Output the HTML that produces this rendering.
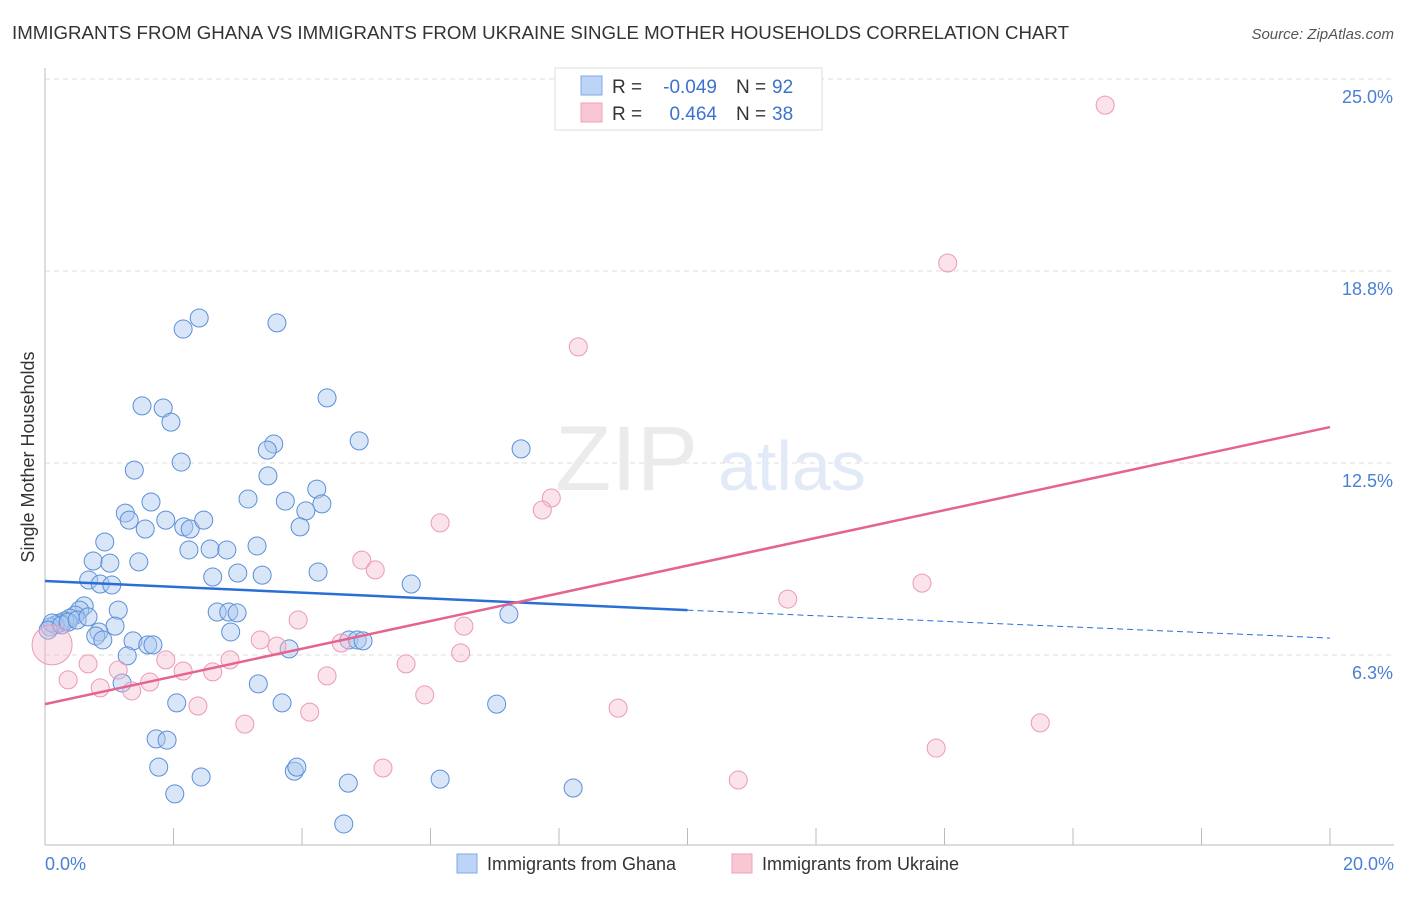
<!DOCTYPE html>
<html><head><meta charset="utf-8">
<style>
body{margin:0;background:#fff;font-family:"Liberation Sans",sans-serif;}
svg text{font-family:"Liberation Sans",sans-serif;}
</style></head>
<body>
<svg id="chart" width="1406" height="892" viewBox="0 0 1406 892">
<text x="12" y="39" font-size="18" fill="#333" textLength="1057" lengthAdjust="spacingAndGlyphs">IMMIGRANTS FROM GHANA VS IMMIGRANTS FROM UKRAINE SINGLE MOTHER HOUSEHOLDS CORRELATION CHART</text>
<text x="1394" y="39" font-size="15" fill="#555" text-anchor="end" font-style="italic">Source: ZipAtlas.com</text>
<g id="grid"></g>
<text x="555" y="490" font-size="92" fill="#ebebeb" font-family="Liberation Serif">ZIP</text>
<text x="718" y="490" font-size="70" fill="#e1eaf6">atlas</text>
<g id="marks"></g>
<text transform="translate(34,457) rotate(-90)" font-size="18" fill="#333" text-anchor="middle">Single Mother Households</text>
<text x="45" y="870" font-size="18" fill="#4a7fd4">0.0%</text>
<text x="1394" y="870" font-size="18" fill="#4a7fd4" text-anchor="end">20.0%</text>
<g>
<rect x="555" y="68" width="267" height="62" fill="#fff" stroke="#ddd"/>
<rect x="581" y="76" width="21" height="19" fill="#bcd4f5" stroke="#7ea8e6"/>
<rect x="581" y="103" width="21" height="19" fill="#f9c6d4" stroke="#eea0b8"/>
<text x="612" y="93" font-size="19" fill="#333">R =</text>
<text x="717" y="93" font-size="19" fill="#3a72d0" text-anchor="end">-0.049</text>
<text x="736" y="93" font-size="19" fill="#333">N =</text>
<text x="772" y="93" font-size="19" fill="#3a72d0">92</text>
<text x="612" y="120" font-size="19" fill="#333">R =</text>
<text x="717" y="120" font-size="19" fill="#3a72d0" text-anchor="end">0.464</text>
<text x="736" y="120" font-size="19" fill="#333">N =</text>
<text x="772" y="120" font-size="19" fill="#3a72d0">38</text>
</g>
<g>
<rect x="457" y="854" width="20" height="19" fill="#bcd4f5" stroke="#7ea8e6"/>
<text x="487" y="870" font-size="18" fill="#333">Immigrants from Ghana</text>
<rect x="732" y="854" width="20" height="19" fill="#f9c6d4" stroke="#eea0b8"/>
<text x="762" y="870" font-size="18" fill="#333">Immigrants from Ukraine</text>
</g>
</svg>
<script>
const ghanaX=[2.40,2.15,3.61,1.51,1.84,1.96,4.39,4.89,7.41,3.56,3.46,2.12,1.39,3.47,1.65,3.16,3.74,4.23,4.31,1.25,1.31,1.88,2.16,2.26,2.47,1.56,4.06,3.97,0.93,2.24,2.57,2.83,3.30,0.75,1.01,1.46,2.61,3.00,3.38,4.25,0.68,0.86,1.04,5.70,1.14,2.68,2.86,2.99,7.22,0.61,0.54,0.47,0.39,0.31,0.23,0.16,0.08,1.09,0.84,0.79,0.90,1.37,1.60,1.68,2.89,4.73,4.86,4.95,3.80,1.28,1.20,3.32,2.05,3.69,7.03,1.73,1.90,1.77,2.43,3.88,3.92,4.72,6.15,8.22,2.02,4.65,0.11,0.05,0.26,0.36,0.50,0.67];
const ghanaY=[17.22,16.86,17.06,14.36,14.29,13.83,14.62,13.22,12.96,13.12,12.92,12.53,12.27,12.08,11.23,11.33,11.26,11.65,11.17,10.87,10.64,10.64,10.42,10.35,10.64,10.35,10.94,10.42,9.93,9.67,9.70,9.67,9.80,9.31,9.24,9.28,8.79,8.92,8.85,8.95,8.69,8.56,8.53,8.56,7.71,7.65,7.65,7.62,7.58,7.85,7.71,7.55,7.45,7.36,7.29,7.23,7.16,7.19,7.00,6.87,6.74,6.71,6.58,6.58,7.00,6.74,6.74,6.71,6.45,6.22,5.34,5.31,4.69,4.69,4.65,3.52,3.48,2.60,2.28,2.47,2.60,2.08,2.21,1.92,1.73,0.75,7.29,7.06,7.23,7.32,7.39,7.49];
const ukraineX=[16.50,14.05,8.30,7.88,7.74,6.15,4.93,5.14,13.65,11.56,3.94,6.52,3.35,3.61,4.61,6.47,1.88,0.67,1.14,2.15,2.61,2.88,5.62,4.39,0.36,1.63,0.86,1.35,5.91,2.38,8.92,4.12,3.11,15.49,13.87,5.26,10.79,0.11];
const ukraineY=[24.15,19.01,16.28,11.36,10.97,10.55,9.34,9.02,8.59,8.07,7.39,7.19,6.74,6.54,6.64,6.32,6.09,5.96,5.76,5.73,5.70,6.09,5.96,5.57,5.44,5.37,5.18,5.08,4.95,4.59,4.52,4.39,4.00,4.04,3.22,2.57,2.18,6.58];
const yTicks=[25.0,18.75,12.5,6.25];
const yTickLabels=["25.0%","18.8%","12.5%","6.3%"];
const xTicks=[0,2,4,6,8,10,12,14,16,18,20];
const ghanaTrend=[8.66,7.71,6.80];
const ukraineTrend=[4.65,13.67];
const NS="http://www.w3.org/2000/svg";
const sx=v=>45+v/20*1285;
const sy=v=>847-v/6.25*192;
function mk(tag,attrs,parent){const e=document.createElementNS(NS,tag);for(const k in attrs)e.setAttribute(k,attrs[k]);parent.appendChild(e);return e;}
const grid=document.getElementById('grid'),marks=document.getElementById('marks');
yTicks.forEach((t,i)=>{
  const l=mk('line',{x1:45,x2:1394,y1:sy(t),y2:sy(t),stroke:'#ddd','stroke-dasharray':'5,4'},grid);
  
  
  const tx=mk('text',{x:1393,y:sy(t)+24,'font-size':18,fill:'#4a7fd4','text-anchor':'end'},grid);
  tx.textContent=yTickLabels[i];
  
  
});
const ya=mk('line',{x1:45,x2:45,y1:68,y2:845,stroke:'#bbb'},grid);


const xa=mk('line',{x1:45,x2:1394,y1:845,y2:845,stroke:'#bbb'},grid);


xTicks.forEach(t=>{
  const l=mk('line',{x1:sx(t),x2:sx(t),y1:828,y2:845,stroke:'#bbb'},grid);
  
  
});
ghanaX.forEach((x,i)=>{
  const c=mk('circle',{cx:sx(x),cy:sy(ghanaY[i]),r:9,fill:'rgba(170,200,240,0.45)',stroke:'#5b8fd8','stroke-width':1},marks);
  
  
});
ukraineX.forEach((x,i)=>{
  const big=i===ukraineX.length-1;
  const c=mk('circle',{cx:sx(x),cy:sy(ukraineY[i]),r:big?20:9,fill:'rgba(245,185,205,0.4)',stroke:'#ec9ab4','stroke-width':1},marks);
  
  
});
const b1=mk('line',{x1:sx(0),y1:sy(ghanaTrend[0]),x2:sx(10),y2:sy(ghanaTrend[1]),stroke:'#2a6fd6','stroke-width':2.5},marks);


const b2=mk('line',{x1:sx(10),y1:sy(ghanaTrend[1]),x2:sx(20),y2:sy(ghanaTrend[2]),stroke:'#2a6fd6','stroke-width':1,'stroke-dasharray':'6,4'},marks);


const p1=mk('line',{x1:sx(0),y1:sy(ukraineTrend[0]),x2:sx(20),y2:sy(ukraineTrend[1]),stroke:'#e5648f','stroke-width':2.5},marks);


</script>
</body></html>
